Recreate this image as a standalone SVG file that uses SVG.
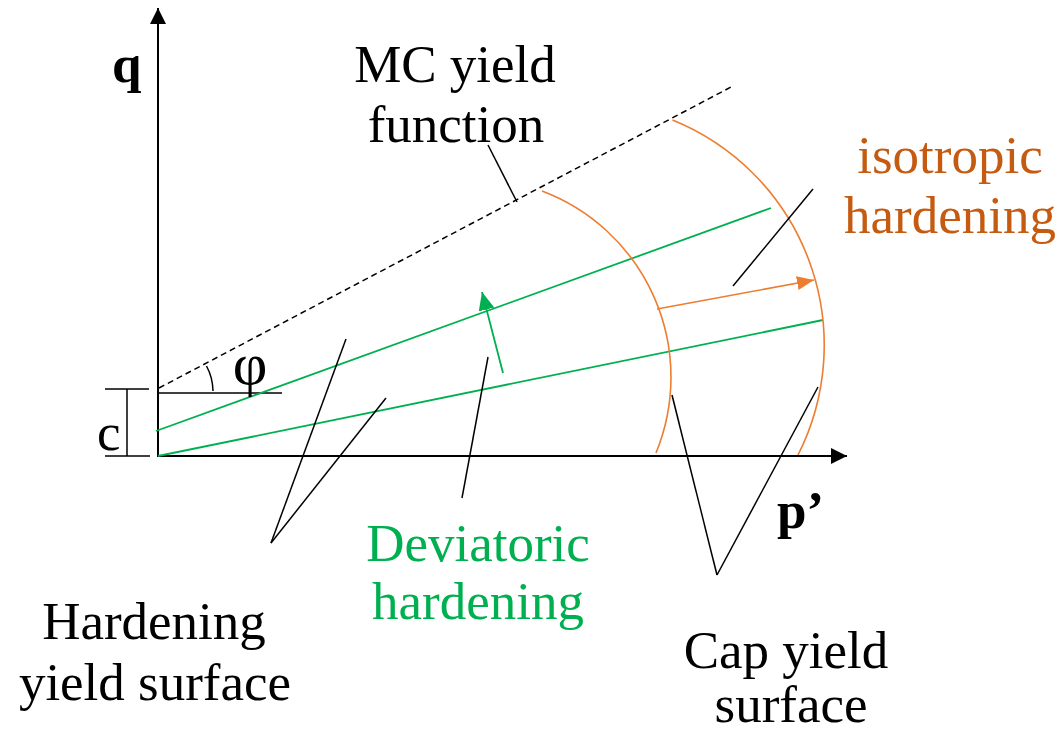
<svg xmlns="http://www.w3.org/2000/svg" width="1063" height="733" viewBox="0 0 1063 733">
<style>
.t{font-family:"Liberation Serif","Times New Roman",serif;font-size:53px;}
.b{font-weight:bold;}
.k{stroke:#000;stroke-width:1.5;fill:none;}
.ax{stroke:#000;stroke-width:2;fill:none;}
.g{stroke:#00B050;stroke-width:1.8;fill:none;}
.o{stroke:#ED7D31;stroke-width:1.6;fill:none;}
</style>
<defs>
<marker id="ak" markerUnits="userSpaceOnUse" markerWidth="18" markerHeight="18" refX="16" refY="8" orient="auto"><path d="M0,0 L16,8 L0,16 Z" fill="#000"/></marker>
<marker id="ag" markerUnits="userSpaceOnUse" markerWidth="20" markerHeight="18" refX="18" refY="8" orient="auto"><path d="M0,0 L18,8 L0,16 Z" fill="#00B050"/></marker>
<marker id="ao" markerUnits="userSpaceOnUse" markerWidth="18" markerHeight="16" refX="17" refY="7" orient="auto"><path d="M0,0 L17,7 L0,14 Z" fill="#ED7D31"/></marker>
</defs>
<rect width="1063" height="733" fill="#fff"/>
<g id="connectors">
<line class="ax" x1="158" y1="457" x2="158" y2="8" marker-end="url(#ak)"/>
<line class="ax" x1="157" y1="456" x2="847" y2="456" marker-end="url(#ak)"/>
<line class="k" x1="159" y1="388" x2="733" y2="86" stroke-dasharray="6,4"/>
<line class="k" x1="158" y1="393" x2="282" y2="393"/>
<path class="k" d="M206.5,366 A54,54 0 0 1 213,391"/>
<line class="k" x1="127" y1="389" x2="127" y2="456"/>
<line class="k" x1="105" y1="389" x2="149" y2="389"/>
<line class="k" x1="105" y1="456" x2="150" y2="456"/>
<line class="g" x1="156" y1="431" x2="771" y2="208"/>
<line class="g" x1="158" y1="456" x2="823" y2="320"/>
<line class="g" x1="503" y1="373" x2="482" y2="292" marker-end="url(#ag)"/>
<path class="o" d="M542,191 A199,199 0 0 1 656,453"/>
<path class="o" d="M672.5,120 A243,243 0 0 1 798,455"/>
<line class="o" x1="657" y1="309" x2="814" y2="280" marker-end="url(#ao)"/>
<line class="k" x1="488" y1="145" x2="517" y2="202"/>
<line class="k" x1="271" y1="543" x2="346" y2="339"/>
<line class="k" x1="271" y1="543" x2="386" y2="398"/>
<line class="k" x1="488" y1="357" x2="462" y2="498"/>
<line class="k" x1="813" y1="189" x2="733" y2="286"/>
<line class="k" x1="717" y1="575" x2="672" y2="395"/>
<line class="k" x1="717" y1="575" x2="818" y2="387"/>
</g>
<g id="label-q"><text class="t b" x="112" y="82">q</text></g>
<g id="label-p"><text class="t b" x="777" y="528">p’</text></g>
<g id="label-c"><text class="t" x="97" y="450">c</text></g>
<g id="label-phi"><text class="t" x="250" y="384" text-anchor="middle" style="font-size:60px">φ</text></g>
<g id="label-mc"><text class="t" text-anchor="middle"><tspan x="455" y="82">MC yield</tspan><tspan x="456" y="142">function</tspan></text></g>
<g id="label-iso"><text class="t" text-anchor="middle" fill="#C55A11"><tspan x="950" y="173">isotropic</tspan><tspan x="950" y="233">hardening</tspan></text></g>
<g id="label-dev"><text class="t" text-anchor="middle" fill="#00B050"><tspan x="478" y="561">Deviatoric</tspan><tspan x="478" y="619">hardening</tspan></text></g>
<g id="label-hys"><text class="t" text-anchor="middle"><tspan x="154" y="639">Hardening</tspan><tspan x="155" y="700">yield surface</tspan></text></g>
<g id="label-cap"><text class="t" text-anchor="middle"><tspan x="786" y="668">Cap yield</tspan><tspan x="791" y="722">surface</tspan></text></g>
</svg>
